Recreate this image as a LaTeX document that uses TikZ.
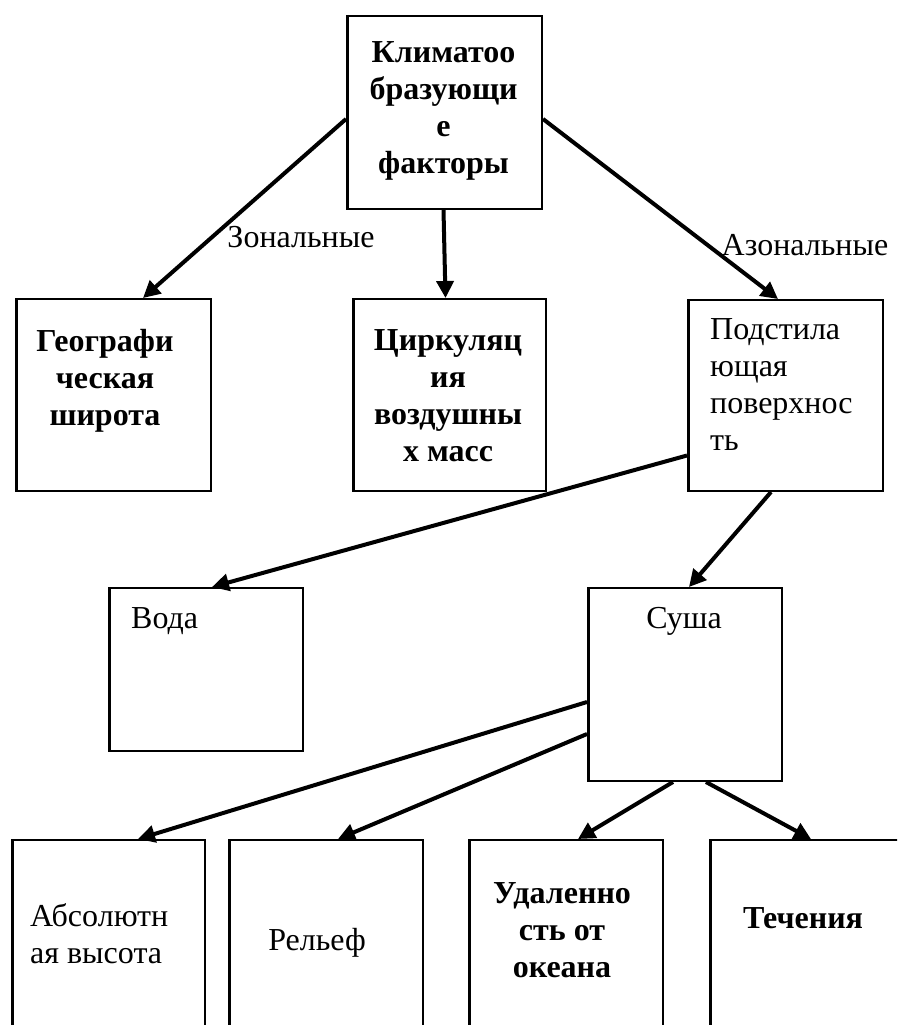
\documentclass[tikz,border=0pt]{standalone}
\usepackage{fontspec}
\setmainfont{Liberation Serif}
\usetikzlibrary{arrows.meta}
\begin{document}
\begin{tikzpicture}[x=1pt,y=-1pt,
  box/.style={draw, line width=2pt, inner sep=0pt, anchor=north west},
  ledge/.style={line width=2pt},
  txt/.style={inner sep=0pt, font=\fontsize{32}{37}\selectfont, anchor=base},
  btxt/.style={inner sep=0pt, font=\fontsize{32}{37}\selectfont\bfseries, anchor=base},
  conn/.style={line width=4pt, -{Triangle[length=17pt,width=17pt]}}]
\useasboundingbox (0,0) rectangle (897,1025);
\clip (0,0) rectangle (897,1025);

% boxes
\node[box, minimum width=195pt, minimum height=193pt] (K) at (346,15) {};
\node[box, minimum width=195pt, minimum height=192pt] (Geo) at (15,298) {};
\node[box, minimum width=193pt, minimum height=192pt] (Circ) at (352,298) {};
\node[box, minimum width=195pt, minimum height=191pt] (Pod) at (687,299) {};
\node[box, minimum width=194pt, minimum height=163pt] (Voda) at (108,587) {};
\node[box, minimum width=194pt, minimum height=193pt] (Susha) at (587,587) {};
\node[box, minimum width=193pt, minimum height=220pt] (Abs) at (11,839) {};
\node[box, minimum width=194pt, minimum height=220pt] (Rel) at (228,839) {};
\node[box, minimum width=194pt, minimum height=220pt] (Udal) at (468,839) {};
\node[box, minimum width=194pt, minimum height=220pt] (Tech) at (709,839) {};

% thicker left edges
\foreach \b in {K,Geo,Circ,Pod,Voda,Susha,Abs,Rel,Udal,Tech}
  \draw[ledge] ([xshift=2pt]\b.north west) -- ([xshift=2pt]\b.south west);

% texts (base anchor = baseline of the last line)
\node[btxt, align=center] (Kt) at (443.5,173) {Климатоо\\бразующи\\е\\факторы};
\node[btxt, align=center] (Geot) at (105,425) {Географи\\ческая\\широта};
\node[btxt, align=center] (Circt) at (448,461) {Циркуляц\\ия\\воздушны\\х масс};
\node[txt, align=left, anchor=base west] (Podt) at (710,450) {Подстила\\ющая\\поверхнос\\ть};
\node[txt, anchor=base west] (Vodat) at (131,628) {Вода};
\node[txt] (Sushat) at (684,628) {Суша};
\node[txt, align=left, anchor=base west] (Abst) at (30,963) {Абсолютн\\ая высота};
\node[txt] (Relt) at (317,950) {Рельеф};
\node[btxt, align=center] (Udalt) at (562,977) {Удаленно\\сть от\\океана};
\node[btxt] (Techt) at (803,928) {Течения};

% labels
\node[txt] (Zon) at (301,247) {Зональные};
\node[txt] (Azon) at (805,255) {Азональные};

% connectors
\draw[conn] ([yshift=-6.5pt]K.west) -- ([xshift=29.5pt]Geo.north);
\draw[conn] ([xshift=-1pt]K.south) -- ([xshift=-4pt]Circ.north);
\draw[conn] ([yshift=-6.5pt]K.east) -- ([xshift=-7.5pt]Pod.north);
\draw[conn] ([yshift=-60pt]Pod.west) -- ([xshift=6pt]Voda.north);
\draw[conn] ([xshift=-14.5pt]Pod.south) -- ([xshift=4pt]Susha.north);
\draw[conn] ([yshift=-17.5pt]Susha.west) -- ([xshift=29.5pt]Abs.north);
\draw[conn] ([yshift=-49.5pt]Susha.west) -- ([xshift=12pt]Rel.north);
\draw[conn] ([xshift=-12pt]Susha.south) -- ([xshift=12pt]Udal.north);
\draw[conn] ([xshift=21pt]Susha.south) -- ([xshift=4pt]Tech.north);
\end{tikzpicture}
\end{document}
